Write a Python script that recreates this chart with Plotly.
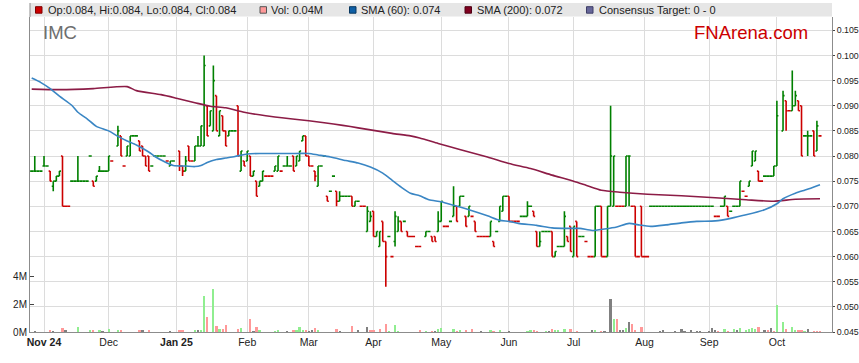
import plotly.graph_objects as go

# ---------------- data (prices in thousandths of a dollar) ----------------
bar_dates = [
    # Oct 24
    "2024-10-28", "2024-10-29", "2024-10-30", "2024-10-31",
    # Nov
    "2024-11-01", "2024-11-04", "2024-11-05", "2024-11-06", "2024-11-07", "2024-11-08",
    "2024-11-11", "2024-11-12", "2024-11-13", "2024-11-14", "2024-11-15", "2024-11-18",
    "2024-11-19", "2024-11-20", "2024-11-21", "2024-11-22", "2024-11-25", "2024-11-26",
    "2024-11-27", "2024-11-28", "2024-11-29",
    # Dec
    "2024-12-02", "2024-12-03", "2024-12-05", "2024-12-06", "2024-12-09", "2024-12-10",
    "2024-12-11", "2024-12-12", "2024-12-13", "2024-12-16", "2024-12-17", "2024-12-18",
    "2024-12-19", "2024-12-20", "2024-12-23", "2024-12-24", "2024-12-25", "2024-12-26",
    "2024-12-27", "2024-12-30", "2024-12-31",
    # Jan
    "2025-01-02", "2025-01-03", "2025-01-06", "2025-01-07", "2025-01-08", "2025-01-09",
    "2025-01-10", "2025-01-13", "2025-01-14", "2025-01-15", "2025-01-16", "2025-01-17",
    "2025-01-20", "2025-01-21", "2025-01-22", "2025-01-23", "2025-01-24", "2025-01-27",
    "2025-01-28", "2025-01-29", "2025-01-30", "2025-01-31",
    # Feb
    "2025-02-03", "2025-02-04", "2025-02-05", "2025-02-06", "2025-02-07", "2025-02-10",
    "2025-02-11", "2025-02-12", "2025-02-13", "2025-02-14", "2025-02-17", "2025-02-18",
    "2025-02-19", "2025-02-20", "2025-02-21", "2025-02-24", "2025-02-25", "2025-02-26",
    "2025-02-27", "2025-02-28",
    # Mar
    "2025-03-03", "2025-03-04", "2025-03-05", "2025-03-06", "2025-03-07", "2025-03-10",
    "2025-03-11", "2025-03-12", "2025-03-13", "2025-03-14", "2025-03-17", "2025-03-18",
    "2025-03-19", "2025-03-20", "2025-03-21", "2025-03-24", "2025-03-25", "2025-03-26",
    "2025-03-27", "2025-03-28", "2025-03-31",
    # Apr
    "2025-04-01", "2025-04-02", "2025-04-03", "2025-04-04", "2025-04-07", "2025-04-08",
    "2025-04-09", "2025-04-10", "2025-04-11", "2025-04-14", "2025-04-15", "2025-04-16",
    "2025-04-17", "2025-04-18", "2025-04-21", "2025-04-22", "2025-04-24", "2025-04-25",
    "2025-04-28", "2025-04-29", "2025-04-30",
    # May
    "2025-05-01", "2025-05-02", "2025-05-05", "2025-05-06", "2025-05-07", "2025-05-08",
    "2025-05-09", "2025-05-12", "2025-05-13", "2025-05-14", "2025-05-15", "2025-05-16",
    "2025-05-19", "2025-05-20", "2025-05-21", "2025-05-22", "2025-05-23", "2025-05-26",
    "2025-05-27", "2025-05-28", "2025-05-29", "2025-05-30",
    # Jun
    "2025-06-02", "2025-06-03", "2025-06-04", "2025-06-05", "2025-06-06", "2025-06-09",
    "2025-06-10", "2025-06-11", "2025-06-12", "2025-06-13", "2025-06-16", "2025-06-17",
    "2025-06-18", "2025-06-19", "2025-06-20", "2025-06-23", "2025-06-24", "2025-06-25",
    "2025-06-26", "2025-06-27", "2025-06-30",
    # Jul
    "2025-07-01", "2025-07-02", "2025-07-03", "2025-07-04", "2025-07-07", "2025-07-08",
    "2025-07-09", "2025-07-10", "2025-07-11", "2025-07-14", "2025-07-15", "2025-07-16",
    "2025-07-17", "2025-07-18", "2025-07-21", "2025-07-22", "2025-07-23", "2025-07-24",
    "2025-07-25", "2025-07-28", "2025-07-29", "2025-07-30", "2025-07-31",
    # Aug
    "2025-08-01", "2025-08-04", "2025-08-05", "2025-08-06", "2025-08-07", "2025-08-08",
    "2025-08-11", "2025-08-12", "2025-08-13", "2025-08-14", "2025-08-15", "2025-08-18",
    "2025-08-19", "2025-08-20", "2025-08-21", "2025-08-22", "2025-08-25", "2025-08-26",
    "2025-08-27", "2025-08-28", "2025-08-29",
    # Sep
    "2025-09-01", "2025-09-02", "2025-09-03", "2025-09-04", "2025-09-05", "2025-09-08",
    "2025-09-09", "2025-09-10", "2025-09-11", "2025-09-12", "2025-09-15", "2025-09-16",
    "2025-09-17", "2025-09-18", "2025-09-19", "2025-09-22", "2025-09-23", "2025-09-24",
    "2025-09-25", "2025-09-26", "2025-09-29", "2025-09-30",
    # Oct
    "2025-10-01", "2025-10-03", "2025-10-06", "2025-10-07", "2025-10-08", "2025-10-09",
    "2025-10-10", "2025-10-13", "2025-10-14", "2025-10-15", "2025-10-16", "2025-10-17",
    "2025-10-20", "2025-10-21",
]

bar_open = [
    77, 77, 77, 77,
    78, 78, 77, 74, 75, 76, 80, 70, 70, 75, 75, 75, 75, 75, 75, 80, 75, 75, 77, 77, 77,
    77, 79, 82, 84, 78, 80, 80, 84, 84, 83, 82, 80, 80, 78, 80, 80, 80, 80, 79, 78, 79,
    81, 78, 77, 82, 79, 79, 82, 82, 82, 90, 86, 85, 92, 84, 88, 85, 84, 85, 85, 90, 77, 79,
    79, 80, 76, 75, 74, 75, 76, 76, 76, 77, 77, 77, 78, 78, 78, 80, 78, 79, 83, 84,
    80, 78, 77, 74, 78, 80, 72, 73, 76, 73, 71, 72, 72, 72, 72, 70, 71, 70, 70, 65, 67,
    69, 64, 62, 67, 63, 64, 60, 63, 65, 67, 67, 65, 64, 64, 62, 62, 64, 65, 64, 64, 65,
    67, 66, 66, 67, 68, 70, 70, 72, 68, 68, 68, 67, 64, 64, 64, 64, 64, 63, 65, 67, 69, 72,
    72, 67, 67, 67, 68, 68, 68, 70, 69, 65, 62, 65, 65, 65, 65, 60, 62, 62, 62, 64, 66,
    60, 67, 64, 64, 63, 60, 60, 60, 70, 70, 60, 60, 70, 70, 70, 70, 70, 70, 80, 70, 70, 60, 70,
    60, 60, 70, 70, 70, 70, 70, 70, 70, 70, 70, 70, 70, 70, 70, 70, 70, 70, 70, 70, 70,
    70, 70, 68, 68, 70, 70, 70, 69, 70, 70, 70, 73, 72, 74, 78, 79, 77, 75, 76, 76, 76, 76,
    78, 85, 91, 89, 89, 90, 91, 90, 84, 84, 84, 85, 81, 84,
]

bar_high = [
    77, 80, 77, 77,
    80, 78, 77, 75, 76, 77, 80, 70, 70, 75, 75, 80, 75, 75, 75, 80, 75, 76, 78, 77, 77,
    80, 79, 86, 84, 78, 82, 84, 84, 84, 83, 82, 80, 80, 78, 80, 80, 80, 80, 79, 79, 79,
    81, 78, 80, 82, 79, 82, 84, 86, 100, 90, 89, 98, 92, 89, 88, 85, 85, 85, 85, 90, 81, 79,
    81, 80, 77, 75, 75, 77, 76, 76, 76, 78, 80, 77, 78, 80, 78, 80, 80, 81, 84, 84,
    80, 78, 77, 78, 78, 80, 72, 73, 76, 73, 73, 72, 72, 72, 72, 71, 71, 70, 70, 70, 69,
    69, 65, 65, 67, 63, 64, 60, 69, 68, 67, 67, 65, 64, 64, 62, 62, 65, 65, 64, 64, 69,
    71, 66, 66, 67, 74, 70, 72, 72, 68, 70, 68, 67, 64, 64, 64, 64, 67, 63, 65, 70, 72, 72,
    72, 67, 67, 67, 68, 68, 71, 70, 69, 65, 65, 65, 65, 65, 65, 61, 62, 62, 69, 64, 66,
    66, 67, 64, 64, 63, 60, 60, 70, 70, 70, 60, 70, 90, 80, 70, 70, 70, 80, 80, 70, 70, 60, 70,
    60, 60, 70, 70, 70, 70, 70, 70, 70, 70, 70, 70, 70, 70, 70, 70, 70, 70, 70, 70, 70,
    70, 70, 68, 68, 70, 72, 70, 69, 70, 70, 75, 73, 72, 75, 81, 81, 77, 75, 76, 76, 76, 78,
    91, 93, 91, 89, 97, 93, 91, 90, 84, 85, 84, 85, 87, 84,
]

bar_low = [
    77, 77, 77, 77,
    78, 78, 75, 73, 75, 76, 70, 70, 70, 75, 75, 75, 75, 75, 75, 80, 74, 75, 77, 77, 77,
    77, 79, 82, 80, 78, 80, 80, 84, 84, 81, 80, 78, 77, 78, 80, 80, 80, 80, 79, 78, 79,
    77, 76, 77, 79, 79, 79, 82, 82, 82, 84, 86, 85, 85, 84, 85, 82, 84, 85, 85, 80, 77, 78,
    79, 76, 76, 72, 74, 75, 76, 76, 76, 77, 77, 77, 78, 78, 78, 77, 78, 79, 83, 80,
    78, 78, 75, 74, 78, 80, 71, 73, 76, 70, 71, 72, 72, 72, 70, 70, 71, 70, 70, 65, 67,
    64, 64, 62, 63, 54, 64, 60, 62, 65, 65, 67, 64, 64, 64, 62, 62, 64, 65, 63, 63, 65,
    67, 66, 66, 67, 68, 67, 70, 72, 66, 68, 68, 65, 64, 64, 64, 64, 64, 62, 65, 67, 69, 72,
    67, 67, 67, 67, 68, 68, 68, 70, 68, 62, 62, 65, 65, 65, 60, 60, 62, 62, 62, 63, 61,
    60, 60, 64, 64, 63, 60, 60, 60, 70, 60, 60, 60, 70, 70, 70, 70, 70, 70, 70, 70, 60, 60, 60,
    60, 60, 70, 70, 70, 70, 70, 70, 70, 70, 70, 70, 70, 70, 70, 70, 70, 70, 70, 70, 70,
    70, 70, 68, 68, 70, 70, 68, 69, 70, 70, 70, 73, 72, 74, 78, 79, 75, 75, 76, 76, 76, 76,
    78, 85, 85, 89, 89, 90, 89, 80, 84, 80, 84, 80, 81, 84,
]

bar_close = [
    77, 77, 77, 77,
    78, 78, 75, 75, 76, 77, 70, 70, 70, 75, 75, 75, 75, 75, 75, 80, 74, 76, 77, 77, 77,
    80, 79, 85, 80, 78, 82, 84, 84, 84, 81, 80, 78, 77, 78, 80, 80, 80, 80, 79, 79, 79,
    78, 77, 79, 79, 79, 82, 82, 86, 98, 84, 89, 95, 85, 89, 85, 82, 85, 85, 85, 80, 81, 78,
    81, 76, 77, 72, 75, 77, 76, 76, 76, 78, 80, 77, 78, 78, 78, 77, 80, 81, 84, 80,
    78, 78, 76, 78, 78, 80, 71, 73, 76, 71, 72, 72, 72, 72, 70, 71, 71, 70, 70, 69, 68,
    64, 65, 65, 63, 60, 64, 60, 68, 67, 65, 67, 64, 64, 64, 62, 62, 65, 65, 63, 63, 67,
    71, 66, 66, 67, 70, 67, 72, 72, 66, 70, 68, 65, 64, 64, 64, 64, 67, 62, 65, 70, 72, 72,
    67, 67, 67, 67, 68, 68, 70, 70, 68, 62, 63, 65, 65, 65, 60, 61, 62, 62, 68, 63, 61,
    66, 60, 64, 64, 63, 60, 60, 70, 70, 60, 60, 70, 80, 80, 70, 70, 70, 80, 80, 70, 60, 60, 60,
    60, 60, 70, 70, 70, 70, 70, 70, 70, 70, 70, 70, 70, 70, 70, 70, 70, 70, 70, 70, 70,
    70, 70, 68, 68, 70, 72, 68, 69, 70, 70, 75, 73, 72, 75, 81, 81, 75, 75, 76, 76, 76, 78,
    88, 92, 89, 89, 90, 92, 89, 80, 84, 84, 84, 80, 86, 84,
]

# volume (millions) and direction of the day: u = up, d = down, n = unchanged
vol_dates = [
    "2024-10-29", "2024-11-05", "2024-11-06", "2024-11-11", "2024-11-12", "2024-11-18",
    "2024-11-22", "2024-11-25", "2024-11-27", "2024-11-28", "2024-12-02", "2024-12-05",
    "2024-12-06", "2024-12-16", "2024-12-17", "2024-12-19", "2024-12-30", "2025-01-02",
    "2025-01-03", "2025-01-09", "2025-01-10", "2025-01-13", "2025-01-14", "2025-01-15",
    "2025-01-17", "2025-01-20", "2025-01-21", "2025-01-22", "2025-01-23", "2025-01-29",
    "2025-01-30", "2025-02-04", "2025-02-05", "2025-02-06", "2025-02-07", "2025-02-14",
    "2025-02-17", "2025-02-20", "2025-02-24", "2025-02-25", "2025-02-26", "2025-02-27",
    "2025-02-28", "2025-03-03", "2025-03-04", "2025-03-05", "2025-03-06", "2025-03-14",
    "2025-03-17", "2025-03-21", "2025-03-25", "2025-03-28", "2025-03-31", "2025-04-01",
    "2025-04-03", "2025-04-07", "2025-04-08", "2025-04-10", "2025-04-11", "2025-04-22",
    "2025-04-24", "2025-04-28", "2025-04-29", "2025-04-30", "2025-05-01", "2025-05-07",
    "2025-05-08", "2025-05-09", "2025-05-13", "2025-05-15", "2025-05-20", "2025-05-23",
    "2025-05-26", "2025-05-28", "2025-06-02", "2025-06-10", "2025-06-11", "2025-06-12",
    "2025-06-13", "2025-06-18", "2025-06-19", "2025-06-20", "2025-06-23", "2025-06-24",
    "2025-06-26", "2025-06-30", "2025-07-02", "2025-07-09", "2025-07-10", "2025-07-14",
    "2025-07-15", "2025-07-17", "2025-07-18", "2025-07-21", "2025-07-22", "2025-07-23",
    "2025-07-24", "2025-07-25", "2025-07-28", "2025-07-29", "2025-07-31", "2025-08-08",
    "2025-08-11", "2025-08-15", "2025-08-19", "2025-08-20", "2025-08-22", "2025-08-26",
    "2025-08-27", "2025-09-01", "2025-09-02", "2025-09-03", "2025-09-04", "2025-09-08",
    "2025-09-09", "2025-09-11", "2025-09-12", "2025-09-15", "2025-09-17", "2025-09-18",
    "2025-09-19", "2025-09-22", "2025-09-23", "2025-09-25", "2025-09-26", "2025-09-29",
    "2025-09-30", "2025-10-01", "2025-10-03", "2025-10-06", "2025-10-08", "2025-10-09",
    "2025-10-10", "2025-10-13", "2025-10-14", "2025-10-15", "2025-10-17", "2025-10-20",
    "2025-10-21",
]
vol_m = [
    0.07, 0.10, 0.07, 0.29, 0.10, 0.36,
    0.17, 0.14, 0.14, 0.05, 0.21, 0.10,
    0.10, 0.10, 0.14, 0.10, 0.07, 0.10,
    0.10, 0.17, 0.17, 0.17, 2.57, 1.07,
    3.07, 0.43, 0.24, 0.24, 0.50, 0.21,
    0.29, 0.93, 0.07, 0.36, 0.10, 0.07,
    0.14, 0.07, 0.10, 0.17, 0.36, 0.10,
    0.14, 0.07, 0.14, 0.29, 0.10, 0.21,
    0.07, 0.43, 0.14, 0.36, 0.14, 0.14,
    0.21, 0.57, 0.07, 0.50, 0.07, 0.14,
    0.07, 0.07, 0.07, 0.19, 0.29, 0.21,
    0.07, 0.14, 0.14, 0.21, 0.07, 0.14,
    0.07, 0.14, 0.07, 0.07, 0.14, 0.14,
    0.07, 0.07, 0.07, 0.21, 0.14, 0.14,
    0.21, 0.21, 0.07, 0.14, 0.14, 0.07,
    0.07, 2.36, 0.93, 0.93, 0.14, 0.14,
    0.29, 0.71, 0.57, 0.14, 0.36, 0.07,
    0.14, 0.07, 0.21, 0.07, 0.14, 0.07,
    0.07, 0.07, 0.29, 0.14, 0.07, 0.21,
    0.07, 0.21, 0.14, 0.29, 0.14, 0.21,
    0.29, 0.21, 0.36, 0.14, 0.14, 0.29,
    0.07, 1.93, 0.74, 0.21, 0.36, 0.14,
    0.10, 0.14, 0.07, 0.21, 0.07, 0.07,
    0.04,
]
vol_dir = [
    "n", "d", "n", "d", "n", "u",
    "u", "d", "u", "n", "u", "u",
    "d", "d", "n", "d", "n", "d",
    "d", "u", "n", "u", "u", "d",
    "u", "d", "u", "d", "d", "d",
    "u", "d", "n", "d", "u", "u",
    "u", "n", "d", "u", "u", "u",
    "d", "n", "n", "d", "u", "d",
    "n", "d", "n", "n", "d", "d",
    "d", "d", "u", "u", "u", "d",
    "u", "d", "n", "u", "u", "u",
    "d", "u", "d", "d", "n", "u",
    "d", "u", "n", "u", "u", "d",
    "d", "u", "n", "d", "u", "u",
    "u", "d", "d", "n", "u", "d",
    "n", "n", "u", "d", "n", "n",
    "u", "n", "d", "d", "d", "n",
    "n", "n", "n", "n", "n", "n",
    "n", "n", "n", "n", "d", "u",
    "d", "u", "n", "u", "u", "u",
    "u", "u", "d", "n", "d", "n",
    "d", "u", "u", "d", "u", "u",
    "d", "d", "u", "n", "d", "d",
    "d",
]

# moving averages
sma60_dates = [
    "2024-10-28", "2024-10-31", "2024-11-05", "2024-11-08", "2024-11-14", "2024-11-18",
    "2024-11-21", "2024-11-26", "2024-12-02", "2024-12-05", "2024-12-10", "2024-12-13",
    "2024-12-19", "2024-12-23", "2024-12-26", "2024-12-31", "2025-01-06", "2025-01-09",
    "2025-01-13", "2025-01-15", "2025-01-20", "2025-01-23", "2025-01-28", "2025-02-03",
    "2025-02-07", "2025-02-14", "2025-02-21", "2025-03-03", "2025-03-06", "2025-03-12",
    "2025-03-19", "2025-03-25", "2025-03-31", "2025-04-04", "2025-04-09", "2025-04-14",
    "2025-04-17", "2025-04-22", "2025-04-25", "2025-05-01", "2025-05-07", "2025-05-14",
    "2025-05-22", "2025-05-28", "2025-06-02", "2025-06-05", "2025-06-13", "2025-06-20",
    "2025-06-27", "2025-07-03", "2025-07-09", "2025-07-15", "2025-07-21", "2025-07-25",
    "2025-07-30", "2025-08-05", "2025-08-12", "2025-08-19", "2025-08-26", "2025-09-03",
    "2025-09-10", "2025-09-17", "2025-09-25", "2025-10-01", "2025-10-03", "2025-10-09",
    "2025-10-14", "2025-10-16", "2025-10-21",
]
sma60 = [
    0.0955, 0.0946, 0.0934, 0.0919, 0.0901, 0.0887,
    0.0874, 0.0859, 0.0850, 0.0839, 0.0830, 0.0822,
    0.0808, 0.0799, 0.0789, 0.0781, 0.0780, 0.0779,
    0.0781, 0.0787, 0.0793, 0.0796, 0.0799, 0.0804,
    0.0805, 0.0805, 0.0805, 0.0805, 0.0802, 0.0798,
    0.0791, 0.0786, 0.0778, 0.0766, 0.0752, 0.0738,
    0.0726, 0.0721, 0.0713, 0.0709, 0.0702, 0.0693,
    0.0681, 0.0672, 0.0670, 0.0666, 0.0662, 0.0657,
    0.0656, 0.0656, 0.0652, 0.0655, 0.0659, 0.0666,
    0.0663, 0.0660, 0.0663, 0.0667, 0.0670, 0.0671,
    0.0676, 0.0683, 0.0693, 0.0705, 0.0715, 0.0726,
    0.0732, 0.0736, 0.0743,
]
sma200_dates = [
    "2024-10-28", "2024-11-08", "2024-11-25", "2024-12-10", "2024-12-13", "2024-12-25",
    "2025-01-01", "2025-01-09", "2025-01-16", "2025-01-23", "2025-01-31", "2025-02-11",
    "2025-02-21", "2025-03-03", "2025-03-10", "2025-03-18", "2025-03-25", "2025-04-01",
    "2025-04-09", "2025-04-17", "2025-04-22", "2025-04-30", "2025-05-09", "2025-05-22",
    "2025-06-02", "2025-06-11", "2025-06-20", "2025-07-01", "2025-07-07", "2025-07-14",
    "2025-07-22", "2025-08-04", "2025-08-19", "2025-09-03", "2025-09-17", "2025-09-30",
    "2025-10-09", "2025-10-21",
]
sma200 = [
    0.0933, 0.0932, 0.0934, 0.0938, 0.0930, 0.0922,
    0.0915, 0.0906, 0.0899, 0.0896, 0.0887, 0.0880,
    0.0874, 0.0870, 0.0866, 0.0861, 0.0856, 0.0851,
    0.0845, 0.0840, 0.0836, 0.0825, 0.0813, 0.0798,
    0.0785, 0.0775, 0.0762, 0.0750, 0.0742, 0.0732,
    0.0728, 0.0724, 0.0721, 0.0717, 0.0713, 0.0710,
    0.0714, 0.0715,
]

month_ticks = ["2024-11-01", "2024-12-02", "2025-01-01", "2025-02-03", "2025-03-03", "2025-04-01",
               "2025-05-01", "2025-06-02", "2025-07-01", "2025-08-01", "2025-09-01", "2025-10-01"]
month_labels = ["<b>Nov 24</b>", "Dec", "<b>Jan 25</b>", "Feb", "Mar", "Apr",
                "May", "Jun", "Jul", "Aug", "Sep", "Oct"]

legend_labels = ["Op:0.084, Hi:0.084, Lo:0.084, Cl:0.084", "Vol: 0.04M",
                 "SMA (60): 0.074", "SMA (200): 0.072", "Consensus Target: 0 - 0"]

assert len(bar_dates) == len(bar_open) == len(bar_high) == len(bar_low) == len(bar_close)
assert len(vol_dates) == len(vol_m) == len(vol_dir)
assert len(sma60_dates) == len(sma60) and len(sma200_dates) == len(sma200)

# ---------------- styling ----------------
PRICE_UNIT = 1000.0
W, H = 859, 363
ML, MR, MT, MB = 30, 27, 17, 31
PW, PH = W - ML - MR, H - MT - MB
FONT = "Liberation Sans, Arial, Helvetica, sans-serif"
UP, DOWN = "#008000", "#cc0000"
VOL_COL = {"u": "#90ee90", "d": "#ff9999", "n": "#808080"}
SMA60_COL, SMA200_COL = "#3a86c4", "#8c1c46"
GRID = "#dcdcdc"
AXIS = "#8c8c8c"


def px(x):
    return (x - ML) / PW


def py(y):
    return (H - MB - y) / PH


fig = go.Figure()

fig.add_trace(go.Bar(
    x=vol_dates, y=vol_m, yaxis="y",
    marker=dict(color=[VOL_COL[d] for d in vol_dir], line=dict(width=0)),
    width=0.72 * 86400000, hoverinfo="skip",
))
fig.add_trace(go.Scatter(
    x=sma200_dates, y=sma200, yaxis="y2", mode="lines",
    line=dict(color=SMA200_COL, width=1.6, shape="spline", smoothing=0.6), hoverinfo="skip",
))
fig.add_trace(go.Scatter(
    x=sma60_dates, y=sma60, yaxis="y2", mode="lines",
    line=dict(color=SMA60_COL, width=1.6, shape="spline", smoothing=0.6), hoverinfo="skip",
))
fig.add_trace(go.Ohlc(
    x=bar_dates,
    open=[v / PRICE_UNIT for v in bar_open],
    high=[v / PRICE_UNIT for v in bar_high],
    low=[v / PRICE_UNIT for v in bar_low],
    close=[v / PRICE_UNIT for v in bar_close],
    yaxis="y2", tickwidth=0.5,
    increasing=dict(line=dict(color=UP, width=1.6)),
    decreasing=dict(line=dict(color=DOWN, width=1.6)),
    hoverinfo="skip",
))

# legend band and texts
shapes = [
    dict(type="rect", xref="paper", yref="paper", x0=0, x1=1, y0=py(16.5), y1=py(3),
         fillcolor="#e6e6e6", line=dict(width=0), layer="below"),
    dict(type="line", xref="paper", yref="paper", x0=0, x1=0, y0=py(17), y1=py(3),
         line=dict(color=AXIS, width=1)),
]
sq_x = [35.5, 260, 349.5, 465, 586.5]
sq_fill = ["#cc0000", "#ff9999", "#0f5fa5", "#800020", "#666699"]
sq_line = ["#800000", "#555555", "#08375f", "#4d0013", "#3d3d66"]
txt_x = [46, 269, 359, 475, 597]
for sx, fc, lc in zip(sq_x, sq_fill, sq_line):
    shapes.append(dict(type="rect", xref="paper", yref="paper", x0=px(sx), x1=px(sx + 6.5),
                       y0=py(13.2), y1=py(6.7), fillcolor=fc, line=dict(color=lc, width=1)))
annotations = []
for tx, lab in zip(txt_x, legend_labels):
    annotations.append(dict(xref="paper", yref="paper", x=px(tx), y=py(10), text=lab,
                            xanchor="left", yanchor="middle", showarrow=False,
                            font=dict(family=FONT, size=11, color="#222222")))
annotations.append(dict(xref="paper", yref="paper", x=px(41), y=py(32), text="IMC",
                        xanchor="left", yanchor="middle", showarrow=False,
                        font=dict(family=FONT, size=18.5, color="#6e6e6e")))
annotations.append(dict(xref="paper", yref="paper", x=px(691.5), y=py(32), text="FNArena.com",
                        xanchor="left", yanchor="middle", showarrow=False,
                        font=dict(family=FONT, size=18.5, color="#cc0000")))

fig.update_layout(
    width=W, height=H,
    margin=dict(l=ML, r=MR, t=MT, b=MB, autoexpand=False),
    paper_bgcolor="white", plot_bgcolor="white",
    showlegend=False, bargap=0,
    font=dict(family=FONT, size=10.5, color="#222222"),
    shapes=shapes, annotations=annotations,
    xaxis=dict(
        type="date", automargin=False,
        range=["2024-10-25 10:48", "2025-10-24 21:36"],
        rangebreaks=[dict(bounds=["sat", "mon"])],
        tickvals=month_ticks, ticktext=month_labels,
        showgrid=True, gridcolor=GRID, gridwidth=1,
        showline=True, linecolor=AXIS, linewidth=1,
        ticks="", tickfont=dict(family=FONT, size=10.5, color="#222222"),
        rangeslider=dict(visible=False), fixedrange=True,
    ),
    yaxis=dict(
        automargin=False,
        range=[0, PH / 14.0], tickvals=[0, 2, 4], ticktext=["0M", "2M", "4M"],
        showgrid=False, zeroline=False, side="left",
        showline=True, linecolor=AXIS, linewidth=1,
        ticks="inside", ticklen=4, tickcolor="#444444",
        tickfont=dict(family=FONT, size=10, color="#222222"),
    ),
    yaxis2=dict(
        overlaying="y", side="right", automargin=False,
        range=[0.045, 0.045 + PH * 0.06 / 301.7],
        tick0=0.045, dtick=0.005, tickformat=".3f",
        showgrid=True, gridcolor=GRID, gridwidth=1, zeroline=False,
        showline=True, linecolor=AXIS, linewidth=1,
        ticks="outside", ticklen=2, tickcolor="#444444",
        tickfont=dict(family=FONT, size=8.8, color="#222222"),
    ),
)

fig.write_html(
    "out.html",
    config={"displayModeBar": False, "responsive": False},
    post_script="document.body.style.margin='0';document.body.style.overflow='hidden';",
)
